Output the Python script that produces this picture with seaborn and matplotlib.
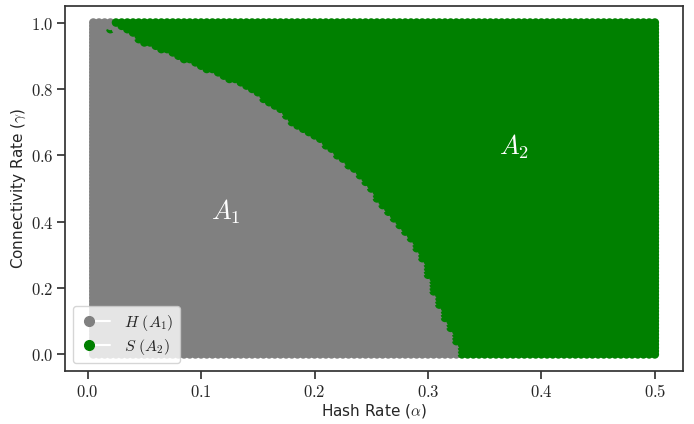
import matplotlib
matplotlib.use('Agg')
import matplotlib.pyplot as plt
from matplotlib.lines import Line2D
from matplotlib.legend_handler import HandlerLine2D
from matplotlib.ticker import FuncFormatter
import numpy as np
import pandas as pd
import seaborn as sns

# parameter grid
alphas = np.round(np.arange(1, 101) * 0.005, 3)
gammas = np.round(np.arange(0, 101) * 0.01, 2)

# boundary: smallest hash rate that is S, per connectivity
bound_gamma = [0.0, 0.08, 0.19, 0.297, 0.377, 0.445, 0.525, 0.585, 0.644, 0.682, 0.748, 0.813, 0.890, 0.947, 1.0]
bound_alpha = [0.327, 0.317, 0.302, 0.292, 0.276, 0.258, 0.241, 0.223, 0.203, 0.182, 0.163, 0.133, 0.083, 0.043, 0.023]

# odd S points sitting inside the H area near the edge
stray_alpha = [0.02, 0.04, 0.04, 0.055, 0.055, 0.06, 0.075, 0.09, 0.105, 0.11, 0.15, 0.155, 0.18, 0.19,
               0.205, 0.23, 0.235, 0.24, 0.24, 0.25, 0.255, 0.265, 0.27, 0.27, 0.285, 0.31, 0.31, 0.31]
stray_gamma = [0.98, 0.99, 0.97, 0.96, 0.95, 0.94, 0.92, 0.90, 0.88, 0.87, 0.80, 0.79, 0.72, 0.70,
               0.67, 0.60, 0.56, 0.54, 0.55, 0.51, 0.49, 0.47, 0.43, 0.41, 0.35, 0.18, 0.17, 0.16]
stray = set(zip(stray_alpha, stray_gamma))

rows = []
for g in gammas:
    thr = np.interp(g, bound_gamma, bound_alpha) + 0.002
    for a in alphas:
        s = a >= thr or (a, g) in stray
        rows.append((a, g, 'S' if s else 'H'))
df = pd.DataFrame(rows, columns=['alpha', 'gamma', 'strategy'])


class MarkerLeft(HandlerLine2D):
    # marker on the left, short white line running off to the right
    def create_artists(self, legend, orig_handle, xdescent, ydescent, width, height, fontsize, trans):
        y = height / 2 - ydescent
        x0 = -xdescent
        line = Line2D([x0 + 0.3 * width, x0 + width], [y, y], color='white', lw=1.5)
        mk = Line2D([x0 + 0.3 * width], [y], marker='o', ls='', markersize=7,
                    color=orig_handle.get_markerfacecolor())
        line.set_transform(trans)
        mk.set_transform(trans)
        return [line, mk]


sns.set_theme(style='ticks')
plt.rcParams['font.family'] = ['DejaVu Sans']
plt.rcParams['mathtext.fontset'] = 'cm'

fig, ax = plt.subplots(figsize=(6.94, 4.24), dpi=100)
plt.subplots_adjust(left=0.094, right=0.984, top=0.986, bottom=0.125)

sns.scatterplot(data=df, x='alpha', y='gamma', hue='strategy', hue_order=['H', 'S'],
                palette={'H': 'gray', 'S': 'green'}, s=38, linewidth=0,
                legend=False, ax=ax)

ax.text(0.122, 0.43, r'$A_1$', color='white', fontsize=19, ha='center', va='center')
ax.text(0.376, 0.627, r'$A_2$', color='white', fontsize=19, ha='center', va='center')

fmt = FuncFormatter(lambda v, p: f'${v:.1f}$')
ax.xaxis.set_major_formatter(fmt)
ax.yaxis.set_major_formatter(fmt)
ax.set_xticks([0.0, 0.1, 0.2, 0.3, 0.4, 0.5])
ax.set_yticks([0.0, 0.2, 0.4, 0.6, 0.8, 1.0])
ax.tick_params(labelsize=12, color='#333333', pad=2.5)
for sp in ax.spines.values():
    sp.set_color('#333333')
ax.set_xlabel(r'Hash Rate ($\alpha$)', fontsize=11, labelpad=1)
ax.set_ylabel(r'Connectivity Rate ($\gamma$)', fontsize=11, labelpad=2)

handles = [Line2D([0], [0], marker='o', markerfacecolor=c, color=c) for c in ['gray', 'green']]
ax.legend(handles, [r'$H\ (A_1)$', r'$S\ (A_2)$'], loc='lower left',
          handler_map={Line2D: MarkerLeft()}, fontsize=11.5, handlelength=1.9,
          borderpad=0.4, labelspacing=0.25, handletextpad=0.9)

fig.savefig('out.png', dpi=100)
